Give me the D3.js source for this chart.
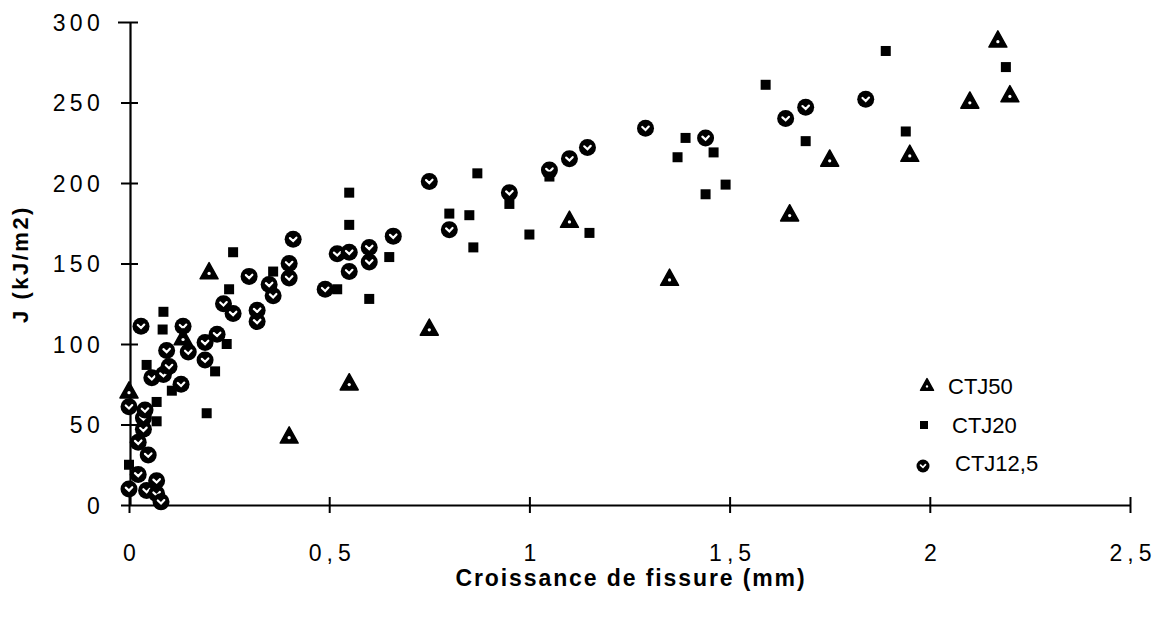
<!DOCTYPE html>
<html><head><meta charset="utf-8">
<script src="https://cdn.jsdelivr.net/npm/d3@7"></script>
<style>body{margin:0;background:#fff}svg{display:block}</style>
</head><body>
<svg id="c" width="1168" height="619"></svg>
<script>
const xTicks = [0, 0.5, 1, 1.5, 2, 2.5];
const xTickLabels = ["0", "0,5", "1", "1,5", "2", "2,5"];
const yTicks = [0, 50, 100, 150, 200, 250, 300];
const yTickLabels = ["0", "50", "100", "150", "200", "250", "300"];
const seriesNames = ["CTJ50", "CTJ20", "CTJ12,5"];

const ctj50 = [[0,71],[0.135,104],[0.2,145],[0.4,43],[0.55,76],[0.75,110],[1.1,177],[1.35,141],[1.65,181],[1.75,215],[1.95,218],[2.1,251],[2.17,289],[2.2,255]];
const ctj20 = [[0,25],[0.044,87],[0.069,64],[0.069,52],[0.107,71],[0.084,109],[0.086,120],[0.194,57],[0.215,83],[0.244,100],[0.25,134],[0.26,157],[0.36,145],[0.52,134],[0.55,174],[0.55,194],[0.6,128],[0.65,154],[0.8,181],[0.85,180],[0.86,160],[0.87,206],[0.95,187],[1.0,168],[1.05,204],[1.15,169],[1.37,216],[1.39,228],[1.44,193],[1.46,219],[1.49,199],[1.59,261],[1.69,226],[1.89,282],[1.94,232],[2.19,272]];
const ctj125 = [[0,10],[0.023,19],[0.044,9],[0.069,15],[0.069,7],[0.08,2],[0.048,31],[0.023,39],[0.036,47],[0.036,54],[0.04,59],[0,61],[0.057,79],[0.086,81],[0.13,75],[0.1,86],[0.094,96],[0.03,111],[0.135,111],[0.148,95],[0.19,90],[0.19,101],[0.22,106],[0.236,125],[0.26,119],[0.3,142],[0.32,121],[0.32,114],[0.35,137],[0.36,130],[0.4,150],[0.4,141],[0.41,165],[0.49,134],[0.52,156],[0.55,157],[0.55,145],[0.6,160],[0.6,151],[0.66,167],[0.75,201],[0.8,171],[0.95,194],[1.05,208],[1.1,215],[1.145,222],[1.29,234],[1.44,228],[1.64,240],[1.69,247],[1.84,252]];

const svg = d3.select("#c");
const x = d3.scaleLinear().domain([0, 2.5]).range([129, 1130]);
const y = d3.scaleLinear().domain([0, 300]).range([505, 22]);
const font = "'Liberation Sans', Arial, Helvetica, sans-serif";

// Axes
const xAxis = d3.axisBottom(x).tickValues(xTicks).tickFormat((d,i)=>xTickLabels[i]).tickSize(0).tickPadding(0);
const gx = svg.append("g").attr("transform","translate(0,505)").call(xAxis);
gx.select(".domain").attr("stroke","#000").attr("stroke-width",2.2);
gx.selectAll(".tick line").remove();
gx.selectAll(".tick").append("line").attr("y1",-8).attr("y2",8).attr("stroke","#000").attr("stroke-width",2);
gx.selectAll(".tick text").attr("x",2.5).attr("y",56).attr("dy",0).attr("font-family",font).attr("font-size",23).attr("letter-spacing",5).attr("fill","#000");

const yAxis = d3.axisLeft(y).tickValues(yTicks).tickFormat((d,i)=>yTickLabels[i]).tickSize(0).tickPadding(0);
const gy = svg.append("g").attr("transform","translate(130,0)").call(yAxis);
gy.select(".domain").attr("stroke","#000").attr("stroke-width",2.2);
gy.selectAll(".tick line").remove();
gy.selectAll(".tick").append("line").attr("x1",d=>d===300?-12:-9).attr("x2",d=>d===0?0:8).attr("stroke","#000").attr("stroke-width",2);
gy.selectAll(".tick text").attr("x",-26).attr("dy","0.36em").attr("font-family",font).attr("font-size",23).attr("letter-spacing",4.3).attr("fill","#000");

// Axis titles
svg.append("text").attr("x",631).attr("y",586).attr("text-anchor","middle")
  .attr("font-family",font).attr("font-size",23).attr("font-weight","bold").attr("letter-spacing",1.9)
  .text("Croissance de fissure (mm)");
svg.append("text").attr("transform","translate(28,264) rotate(-90)").attr("text-anchor","middle")
  .attr("font-family",font).attr("font-size",22).attr("font-weight","bold").attr("letter-spacing",2.5)
  .text("J (kJ/m2)");

// markers
function tri(g, cx, cy, s){
  const h = s*0.9;
  g.append("path").attr("d",`M${cx},${cy-h*0.55} L${cx+s/2},${cy+h*0.45} L${cx-s/2},${cy+h*0.45} Z`)
    .attr("fill","#000").attr("stroke","#000").attr("stroke-width",1.5).attr("stroke-linejoin","round");
  g.append("circle").attr("cx",cx).attr("cy",cy+h*0.12).attr("r",s*0.09).attr("fill","#fff");
}
function sq(g, cx, cy, s){
  g.append("rect").attr("x",cx-s/2).attr("y",cy-s/2).attr("width",s).attr("height",s).attr("fill","#000");
}
function circ(g, cx, cy, r){
  g.append("circle").attr("cx",cx).attr("cy",cy).attr("r",r).attr("fill","#000");
  g.append("path").attr("d",`M${cx-r*0.38},${cy-r*0.15} L${cx},${cy+r*0.2} L${cx+r*0.38},${cy-r*0.2}`)
    .attr("fill","none").attr("stroke","#fff").attr("stroke-width",r*0.26).attr("stroke-linecap","round");
}

const gp = svg.append("g");
ctj125.forEach(d=>circ(gp, x(d[0]), y(d[1]), 8.5));
ctj20.forEach(d=>sq(gp, x(d[0]), y(d[1]), 10));
ctj50.forEach(d=>tri(gp, x(d[0]), y(d[1]), 18));

// legend
const lg = svg.append("g");
tri(lg, 927, 385, 13);
sq(lg, 924, 425, 8);
circ(lg, 923, 466, 6.5);
const lx = [948, 952, 955], ly = [386, 425, 463];
seriesNames.forEach((n,i)=>{
  lg.append("text").attr("x",lx[i]).attr("y",ly[i]).attr("dy","0.36em")
    .attr("font-family",font).attr("font-size",22).attr("fill","#000").text(n);
});
</script>
</body></html>
